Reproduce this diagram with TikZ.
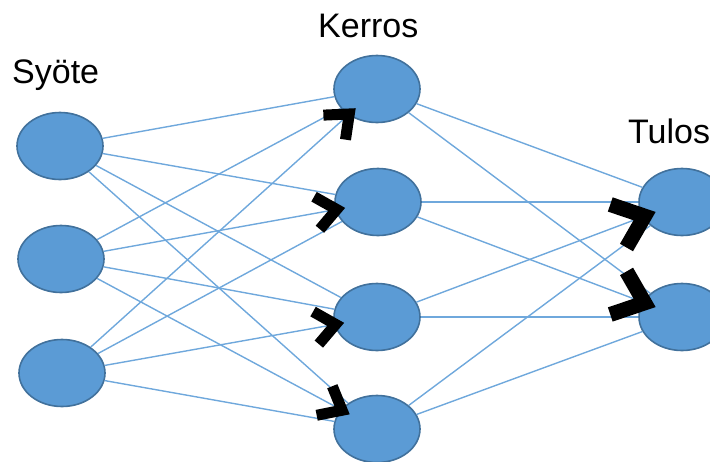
\documentclass[tikz,border=0pt]{standalone}
\usepackage{fontspec}
\setmainfont{Liberation Sans}
\usetikzlibrary{arrows.meta, shapes.geometric}
\definecolor{nodeblue}{HTML}{5B9BD5}
\definecolor{rimblue}{HTML}{41719C}
\definecolor{linkblue}{HTML}{6FA8DC}
\tikzset{
  neuron/.style={ellipse, draw=rimblue, line width=1.6pt, fill=nodeblue,
    minimum width=86pt, minimum height=67pt, inner sep=0pt},
  layertitle/.style={anchor=base west, inner sep=0pt, font=\fontsize{34}{40}\selectfont},
  link/.style={draw=linkblue, line width=1.4pt},
  linkhid/.style={link, -{Straight Barb[sharp, black, length=20pt, width=33pt, line width=11pt]}, shorten >=-10pt},
  linkout/.style={link, -{Straight Barb[sharp, black, length=28pt, width=46pt, line width=15pt]}, shorten >=-14pt},
}

\begin{document}
\begin{tikzpicture}[x=1pt, y=-1pt]
\useasboundingbox (0,0) rectangle (710,461);
% layer titles
\node[layertitle] (syote) at (12,83) {Syöte};
\node[layertitle] (kerros) at (318,37) {Kerros};
\node[layertitle] (tulos) at (628,143) {Tulos};
% input layer
\node[neuron] (in1) at (60,146) {};
\node[neuron] (in2) at (61,259) {};
\node[neuron] (in3) at (62,373) {};
% hidden layer
\node[neuron] (hid1) at (377,89) {};
\node[neuron] (hid2) at (378,202) {};
\node[neuron] (hid3) at (377,317) {};
\node[neuron] (hid4) at (377,429) {};
% output layer
\node[neuron] (out1) at (682,202) {};
\node[neuron] (out2) at (682,317) {};
% input -> hidden
\draw[link] (in1) -- (hid1);
\draw[link] (in1) -- (hid2);
\draw[link] (in1) -- (hid3);
\draw[link] (in1) -- (hid4);
\draw[link] (in2) -- (hid1);
\draw[link] (in3) -- (hid2);
\draw[link] (in2) -- (hid3);
\draw[link] (in3) -- (hid4);
% hidden -> output
\draw[link] (hid1) -- (out1);
\draw[link] (hid2) -- (out1);
\draw[link] (hid4) -- (out1);
\draw[link] (hid1) -- (out2);
\draw[link] (hid3) -- (out2);
\draw[link] (hid4) -- (out2);
% the links that carry a tip
\draw[linkhid] (in3) -- (hid1);
\draw[linkhid] (in2) -- (hid2);
\draw[linkhid] (in3) -- (hid3);
\draw[linkhid] (in2) -- (hid4);
\draw[linkout] (hid3) -- (out1);
\draw[linkout] (hid2) -- (out2);
\end{tikzpicture}
\end{document}
